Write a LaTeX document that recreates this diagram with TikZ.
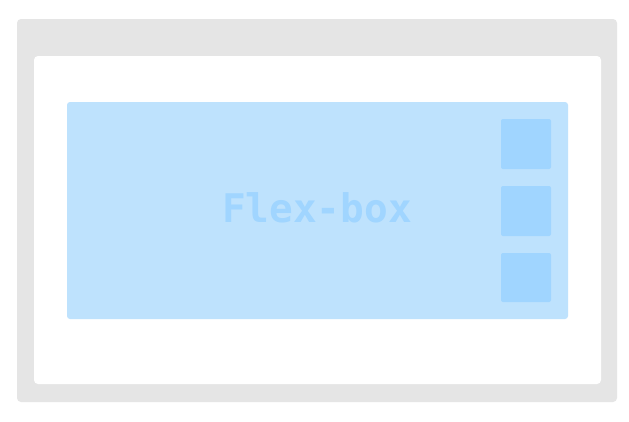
\documentclass[tikz,border=0pt]{standalone}
\usepackage{fontspec}
\newfontfamily\flexmono{DejaVu Sans Mono}
\definecolor{framegray}{RGB}{229,229,229}
\definecolor{flexbg}{RGB}{190,226,253}
\definecolor{flexitem}{RGB}{160,213,255}
\begin{document}
\begin{tikzpicture}[x=1pt,y=-1pt,
  panel/.style={fill=#1,draw=none,rounded corners=4pt},
  item/.style={fill=flexitem,draw=none,rounded corners=2pt}]
\useasboundingbox (0,0) rectangle (629,421);
\fill[white] (0,0) rectangle (629,421);
\path[panel=framegray] (17,19) rectangle (617,402);
\path[panel=white] (34,56) rectangle (601,384);
\path[panel=flexbg,rounded corners=3pt] (67,102) rectangle (568,319);
\path[item] (501,119) rectangle (551,169);
\path[item] (501,186) rectangle (551,236);
\path[item] (501,253) rectangle (551,302);
\node[text=flexitem,font=\flexmono\bfseries\fontsize{39.4}{40}\selectfont,anchor=base,inner sep=0pt] (lbl) at (317,222) {Flex-box};
\end{tikzpicture}
\end{document}
